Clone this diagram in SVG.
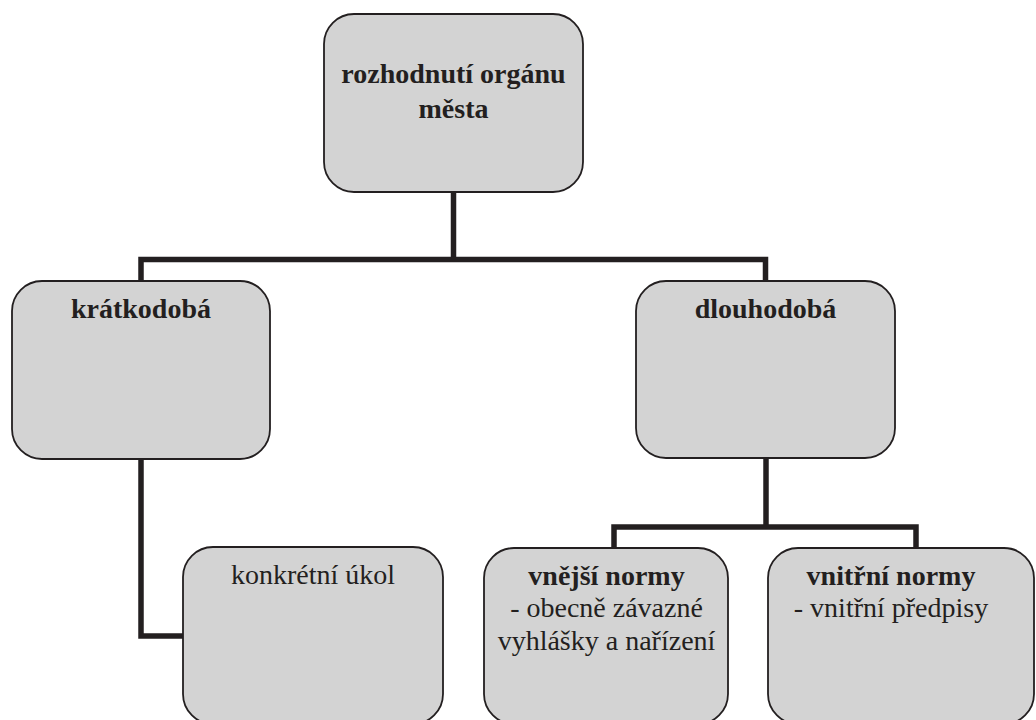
<svg xmlns="http://www.w3.org/2000/svg" width="1036" height="720" viewBox="0 0 1036 720">
  <style>
    .box { fill: #d3d3d3; stroke: #231f20; stroke-width: 1.8; }
    .wire { fill: none; stroke: #231f20; stroke-width: 5.5; stroke-linejoin: miter; stroke-linecap: butt; }
    text { font-family: "Liberation Serif", "Times New Roman", serif; font-size: 28px; fill: #231f20; text-anchor: middle; }
    .b { font-weight: bold; }
  </style>
  <rect width="1036" height="720" fill="#ffffff"/>

  <!-- connectors -->
  <g id="connectors">
    <path class="wire" d="M453.5 192 V259.5"/>
    <path class="wire" d="M141 281 V259.5 H765.5 V281"/>
    <path class="wire" d="M141 459 V636 H183"/>
    <path class="wire" d="M766 458 V527"/>
    <path class="wire" d="M614 548 V527 H916 V548"/>
  </g>

  <g id="node-root">
    <rect class="box" x="324" y="14" width="259" height="178" rx="30" ry="30"/>
    <text class="b" x="453.5" y="83">rozhodnutí orgánu</text>
    <text class="b" x="453.5" y="118">města</text>
  </g>

  <g id="node-kratkodoba">
    <rect class="box" x="12" y="281" width="258" height="178" rx="30" ry="30"/>
    <text class="b" x="141" y="318">krátkodobá</text>
  </g>

  <g id="node-dlouhodoba">
    <rect class="box" x="636" y="281" width="259" height="177" rx="30" ry="30"/>
    <text class="b" x="765.5" y="318">dlouhodobá</text>
  </g>

  <g id="node-konkretni">
    <rect class="box" x="183" y="547" width="260" height="177" rx="30" ry="30"/>
    <text x="313" y="584">konkrétní úkol</text>
  </g>

  <g id="node-vnejsi">
    <rect class="box" x="484" y="548" width="244" height="176" rx="30" ry="30"/>
    <text class="b" x="606.5" y="585">vnější normy</text>
    <text x="606.5" y="617">- obecně závazné</text>
    <text x="606.5" y="650">vyhlášky a nařízení</text>
  </g>

  <g id="node-vnitrni">
    <rect class="box" x="768" y="548" width="266" height="176" rx="30" ry="30"/>
    <text class="b" x="891" y="585">vnitřní normy</text>
    <text x="891" y="617">- vnitřní předpisy</text>
  </g>
</svg>
